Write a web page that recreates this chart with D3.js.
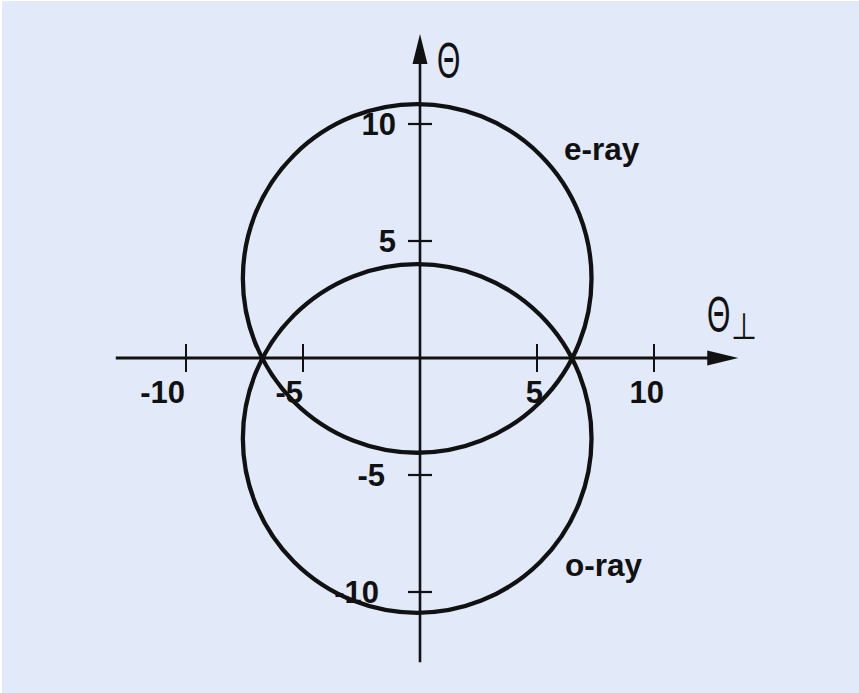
<!DOCTYPE html>
<html>
<head>
<meta charset="utf-8">
<script src="https://cdn.jsdelivr.net/npm/d3@7"></script>
<style>
  html, body { margin: 0; padding: 0; background: #ffffff; }
  svg { display: block; }
</style>
</head>
<body>
<svg id="chart" width="859" height="693"></svg>
<script>
// Ray surfaces: circle centres (θ⊥, θ) and radii, in degrees
const rayNames   = ["e-ray", "o-ray"];
const rayCenterX = [-0.12, -0.12];
const rayCenterY = [3.4, -3.44];
const rayRadius  = [7.45, 7.45];

// Axis ticks and their labels
const xTicks = [-10, -5, 5, 10];
const xTickLabels = ["-10", "-5", "5", "10"];
const yTicks = [10, 5, -5, -10];
const yTickLabels = ["10", "5", "-5", "-10"];

// Axis extents (data units)
const xAxisExtent = [-13, 13.6];
const yAxisExtent = [-13, 13.85];

const W = 859, H = 693;
const svg = d3.select("#chart");

// light panel
svg.append("rect")
  .attr("x", 2).attr("y", 1)
  .attr("width", W - 2).attr("height", H - 1)
  .attr("fill", "#e2e9f8");

const x = d3.scaleLinear().domain([-10, 10]).range([186, 654]);
const y = d3.scaleLinear().domain([-10, 10]).range([592, 124]);

const ink = "#111111";
const font = "'Liberation Sans', Arial, Helvetica, sans-serif";

// label layout (pixel nudges relative to tick positions)
const xLabelLayout = { anchor: "end", dx: [-1, 0, 6, 10], baselineDy: 45 };
const yLabelLayout = { anchor: "end", endX: [396, 396, 385, 379], baselineDy: 11 };

// --- axes lines
svg.append("line")
  .attr("x1", x(xAxisExtent[0])).attr("x2", x(xAxisExtent[1]) - 20)
  .attr("y1", y(0)).attr("y2", y(0))
  .attr("stroke", ink).attr("stroke-width", 3);

svg.append("line")
  .attr("x1", x(0)).attr("x2", x(0))
  .attr("y1", y(yAxisExtent[0])).attr("y2", y(yAxisExtent[1]) + 20)
  .attr("stroke", ink).attr("stroke-width", 2.6);

// arrowheads
const xt = x(xAxisExtent[1]), y0 = y(0);
svg.append("path")
  .attr("d", `M${xt},${y0} L${xt - 31},${y0 - 7.5} L${xt - 31},${y0 + 7.5} Z`)
  .attr("fill", ink);
const yt = y(yAxisExtent[1]), x0 = x(0);
svg.append("path")
  .attr("d", `M${x0},${yt} L${x0 - 7.5},${yt + 30} L${x0 + 7.5},${yt + 30} Z`)
  .attr("fill", ink);

// --- ticks
svg.selectAll("line.xtick").data(xTicks).join("line")
  .attr("class", "xtick")
  .attr("x1", d => x(d)).attr("x2", d => x(d))
  .attr("y1", y0 - 14).attr("y2", y0 + 14)
  .attr("stroke", ink).attr("stroke-width", 2);

svg.selectAll("line.ytick").data(yTicks).join("line")
  .attr("class", "ytick")
  .attr("x1", x0 - 12).attr("x2", x0 + 12)
  .attr("y1", d => y(d)).attr("y2", d => y(d))
  .attr("stroke", ink).attr("stroke-width", 2.2);

// --- ray circles
svg.selectAll("circle.ray").data(rayNames).join("circle")
  .attr("class", "ray")
  .attr("cx", (d, i) => x(rayCenterX[i]))
  .attr("cy", (d, i) => y(rayCenterY[i]))
  .attr("r", (d, i) => x(rayRadius[i]) - x(0))
  .attr("fill", "none")
  .attr("stroke", ink).attr("stroke-width", 4.3);

// --- tick labels
svg.selectAll("text.xlab").data(xTicks).join("text")
  .attr("class", "xlab")
  .attr("x", (d, i) => x(d) + xLabelLayout.dx[i])
  .attr("y", y0 + xLabelLayout.baselineDy)
  .attr("text-anchor", xLabelLayout.anchor)
  .attr("font-family", font).attr("font-weight", "bold").attr("font-size", 31)
  .attr("fill", ink)
  .text((d, i) => xTickLabels[i]);

svg.selectAll("text.ylab").data(yTicks).join("text")
  .attr("class", "ylab")
  .attr("x", (d, i) => yLabelLayout.endX[i])
  .attr("y", d => y(d) + yLabelLayout.baselineDy)
  .attr("text-anchor", yLabelLayout.anchor)
  .attr("font-family", font).attr("font-weight", "bold").attr("font-size", 31)
  .attr("fill", ink)
  .text((d, i) => yTickLabels[i]);

// --- ray names
const rayLabelPos = [[564, 160], [565, 576]];
svg.selectAll("text.rayname").data(rayNames).join("text")
  .attr("class", "rayname")
  .attr("x", (d, i) => rayLabelPos[i][0])
  .attr("y", (d, i) => rayLabelPos[i][1])
  .attr("font-family", font).attr("font-weight", "bold").attr("font-size", 31.5)
  .attr("fill", ink)
  .text(d => d);

// --- axis titles (narrow Θ)
function theta(px, baseline) {
  svg.append("text")
    .attr("transform", `translate(${px},${baseline}) scale(0.6,1)`)
    .attr("font-family", font).attr("font-size", 50)
    .attr("fill", ink)
    .text("Θ");
}
theta(437, 78);
theta(707, 332);
svg.append("text")
  .attr("transform", `translate(731,339) scale(0.85,1.05)`)
  .attr("font-family", "'DejaVu Sans', sans-serif").attr("font-size", 35)
  .attr("fill", ink)
  .text("⊥");
</script>
</body>
</html>
